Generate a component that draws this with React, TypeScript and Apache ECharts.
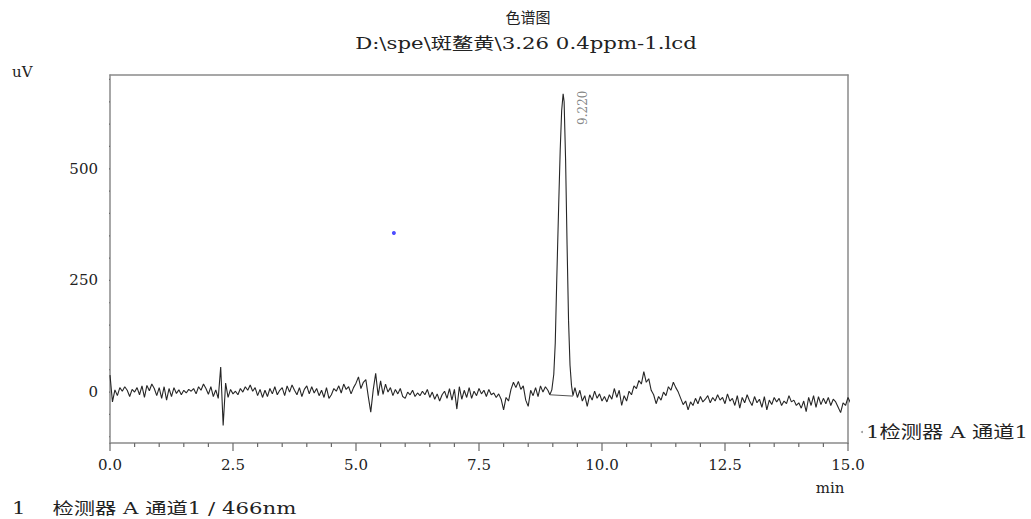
import React, { useEffect, useRef } from "react";
import * as echarts from "echarts";

// ---- data ----
const TITLE_1 = "色谱图";
const TITLE_2 = "D:\\spe\\斑鳌黄\\3.26 0.4ppm-1.lcd";
const Y_UNIT = "uV";
const X_UNIT = "min";
const LEGEND_TEXT = "1    检测器 A 通道1 / 466nm";
const TRACE_NAME = "1检测器 A 通道1";
const PEAK_LABEL = "9.220";

const X_MIN = 0;
const X_MAX = 15;
const X_INTERVAL = 2.5;
const X_MAJOR_TICKS = [0, 2.5, 5, 7.5, 10, 12.5, 15];
const X_MINOR_TICKS = [0.5, 1, 1.5, 2, 3, 3.5, 4, 4.5, 5.5, 6, 6.5, 7, 8, 8.5, 9, 9.5, 10.5, 11, 11.5, 12, 13, 13.5, 14, 14.5];
const Y_MIN = -114;
const Y_MAX = 710;
const Y_MAJOR_TICKS = [0, 250, 500];
const Y_MINOR_TICKS = [-100, -50, 50, 100, 150, 200, 300, 350, 400, 450, 550, 600, 650, 700];

const SAMPLE_STEP = 0.05;
// baseline before the peak, t = 0.00 .. 8.90 (one row = 0.5 min)
const BASELINE_A_START = 0;
const baselineA = [
  38, -22, 5, -8, 10, 2, 12, 4, -10, 6,
  0, 10, -6, 14, -12, 15, 3, 18, 8, -8,
  10, -14, 12, -18, 8, -10, 10, -3, 5, -6,
  4, -2, 6, 2, 8, -4, 12, 4, 18, 8,
  -5, 12, -10, 5, -14, 56, -75, 20, -12, 6,
  -4, 2, -6, 8, 0, 12, 4, 16, 2, 10,
  -8, 6, -12, 4, -10, 8, -4, 12, -6, 4,
  10, -8, 14, 0, 16, 4, -6, 10, -10, 6,
  14, -4, 12, -2, 8, -8, 4, -12, 10, -14,
  -6, 8, 2, 14, -2, 18, 6, 12, -4, 10,
  20, 34, 8, 22, 28, -10, -45, 5, 42, -8,
  25, -5, 18, 0, 10, -8, 6, -4, 8, -10,
  -14, 0, -6, 4, -10, -2, -8, 2, -6, 6,
  -12, 0, -16, -4, -20, -6, 2, -14, 8, -18,
  6, -38, 12, -16, 4, -12, 10, -14, 2, -8,
  8, -4, 4, -10, 6, -6, -2, -12, -4, -16,
  -40, -12, -20, 6, 22, 10, 24, 6, 14, -18,
  -32, 4, -8, 10, -10, 14, 0, 12, 4,
];
// the peak
const peakTimes = [8.94, 8.98, 9.02, 9.05, 9.08, 9.12, 9.15, 9.18, 9.21, 9.23, 9.26, 9.29, 9.32, 9.35, 9.38, 9.41];
const peakValues = [-6, 5, 40, 110, 250, 420, 540, 630, 668, 650, 520, 330, 160, 60, 15, -8];
// baseline after the peak, t = 9.45 .. 15.20
const BASELINE_B_START = 9.45;
const baselineB = [
  10, -12, 4, -20, -8, -32, -6, -18, 2, -14,
  -4, -20, -10, -22, -6, -16, 8, -12, 4, -30,
  -8, -20, 2, -6, 14, 8, 26, 18, 46, 22,
  30, 4, -6, -26, -10, -18, 0, -8, 12, 4,
  22, 10, 0, -14, -28, -20, -40, -22, -30, -14,
  -26, -10, -22, -16, -8, -24, -12, -20, -6, -18,
  -12, -26, -4, -20, -14, -30, -8, -36, -12, -24,
  -6, -20, -30, -10, -24, -16, -34, -10, -40, -18,
  -28, -12, -22, -14, -30, -20, -26, -8, -22, -18,
  -30, -24, -36, -20, -44, -12, -30, -8, -34, -10,
  -28, -14, -26, -12, -30, -16, -22, -34, -46, -24,
  -30, -12, -24, -35, -46, -58,
];
// integration baseline under the peak
const peakBaseTimes = [8.94, 9.41];
const peakBaseValues = [-6, -9];
// the peak's retention-time label point
const peakApex = [9.21, 668];
// the small blue marker
const markerPoint = [5.77, 356];

// tick lengths expressed in axis units (drawn outward, outside the plot)
const X_MAJOR_TICK_LEN = 18; // uV below the x axis
const X_MINOR_TICK_LEN = 9;
const Y_MAJOR_TICK_LEN = 0.19; // min left of the y axis
const Y_MINOR_TICK_LEN = 0.09;

const SERIF = "'DejaVu Serif', 'Noto Sans CJK SC', serif";
const TEXT_COLOR = "#222";
const AXIS_COLOR = "#8a8a8a";
const TICK_COLOR = "#6a6a6a";

function tickLine(points: number[][]) {
  return {
    type: "line",
    data: points,
    clip: false,
    silent: true,
    symbol: "none",
    z: 3,
    lineStyle: { color: TICK_COLOR, width: 1.2 },
  };
}

export default function App() {
  const ref = useRef<HTMLDivElement>(null);

  useEffect(() => {
    if (!ref.current) return;
    const chart = echarts.init(ref.current, null, { renderer: "svg" });

    const trace: number[][] = [];
    baselineA.forEach((v, i) => trace.push([+(BASELINE_A_START + i * SAMPLE_STEP).toFixed(2), v]));
    peakTimes.forEach((t, i) => trace.push([t, peakValues[i]]));
    baselineB.forEach((v, i) => trace.push([+(BASELINE_B_START + i * SAMPLE_STEP).toFixed(2), v]));
    const base = peakBaseTimes.map((t, i) => [t, peakBaseValues[i]]);

    const tickSeries: any[] = [];
    X_MAJOR_TICKS.forEach((v) => tickSeries.push(tickLine([[v, Y_MIN], [v, Y_MIN - X_MAJOR_TICK_LEN]])));
    X_MINOR_TICKS.forEach((v) => tickSeries.push(tickLine([[v, Y_MIN], [v, Y_MIN - X_MINOR_TICK_LEN]])));
    Y_MAJOR_TICKS.forEach((v) => tickSeries.push(tickLine([[X_MIN, v], [X_MIN - Y_MAJOR_TICK_LEN, v]])));
    Y_MINOR_TICKS.forEach((v) => tickSeries.push(tickLine([[X_MIN, v], [X_MIN - Y_MINOR_TICK_LEN, v]])));

    const frameLine = () => ({ show: true, onZero: false, lineStyle: { color: AXIS_COLOR, width: 1.5 } });

    chart.setOption({
      animation: false,
      grid: { left: 110, right: 183, top: 75, bottom: 76 },
      xAxis: [
        {
          type: "value",
          min: X_MIN,
          max: X_MAX,
          interval: X_INTERVAL,
          position: "bottom",
          axisLine: frameLine(),
          axisTick: { show: false },
          splitLine: { show: false },
          axisLabel: {
            margin: 14,
            color: TEXT_COLOR,
            fontFamily: SERIF,
            fontSize: 15,
            formatter: (v: number) => v.toFixed(1),
          },
        },
        {
          type: "value",
          min: X_MIN,
          max: X_MAX,
          position: "top",
          axisLine: frameLine(),
          axisTick: { show: false },
          axisLabel: { show: false },
          splitLine: { show: false },
        },
      ],
      yAxis: [
        {
          type: "value",
          min: Y_MIN,
          max: Y_MAX,
          position: "left",
          axisLine: frameLine(),
          axisTick: { show: false },
          axisLabel: {
            customValues: Y_MAJOR_TICKS,
            margin: 12,
            color: TEXT_COLOR,
            fontFamily: SERIF,
            fontSize: 15,
          },
          splitLine: { show: false },
        },
        {
          type: "value",
          min: Y_MIN,
          max: Y_MAX,
          position: "right",
          axisLine: frameLine(),
          axisTick: { show: false },
          axisLabel: { show: false },
          splitLine: { show: false },
        },
      ],
      series: [
        ...tickSeries,
        {
          type: "line",
          data: trace,
          clip: false,
          symbol: "none",
          lineStyle: { color: "#262626", width: 1.1 },
        },
        {
          type: "line",
          data: base,
          clip: false,
          symbol: "none",
          lineStyle: { color: "#555", width: 1 },
        },
        {
          type: "scatter",
          data: [peakApex],
          symbolSize: 0,
          itemStyle: { color: "#666" },
          label: {
            show: true,
            formatter: PEAK_LABEL,
            rotate: 90,
            position: [20, 14],
            align: "center",
            verticalAlign: "middle",
            fontFamily: SERIF,
            fontSize: 12,
            color: "#666",
          },
        },
        {
          type: "scatter",
          data: [markerPoint],
          symbol: "circle",
          symbolSize: 4,
          itemStyle: { color: "#2020ff" },
        },
      ],
      graphic: [
        { type: "text", x: 528, y: 18, style: { text: TITLE_1, font: `15px ${SERIF}`, fill: TEXT_COLOR, textAlign: "center", textVerticalAlign: "middle" } },
        { type: "text", x: 526, y: 43, scaleX: 1.33, style: { text: TITLE_2, font: `16px ${SERIF}`, fill: TEXT_COLOR, textAlign: "center", textVerticalAlign: "middle" } },
        { type: "text", x: 12, y: 72, style: { text: Y_UNIT, font: `15px ${SERIF}`, fill: TEXT_COLOR, textVerticalAlign: "middle" } },
        { type: "text", x: 830, y: 488, style: { text: X_UNIT, font: `15px ${SERIF}`, fill: TEXT_COLOR, textAlign: "center", textVerticalAlign: "middle" } },
        { type: "text", x: 12, y: 508, scaleX: 1.33, style: { text: LEGEND_TEXT, font: `16px ${SERIF}`, fill: TEXT_COLOR, textVerticalAlign: "middle" } },
        { type: "circle", shape: { cx: 862, cy: 432, r: 1 }, style: { fill: "#999" } },
        { type: "text", x: 866, y: 432, scaleX: 1.25, style: { text: TRACE_NAME, font: `17px ${SERIF}`, fill: TEXT_COLOR, textVerticalAlign: "middle" } },
      ],
    });

    return () => chart.dispose();
  }, []);

  return (
    <div
      ref={ref}
      style={{ position: "absolute", left: 0, top: 0, width: 1031, height: 519, background: "#fff" }}
    />
  );
}
